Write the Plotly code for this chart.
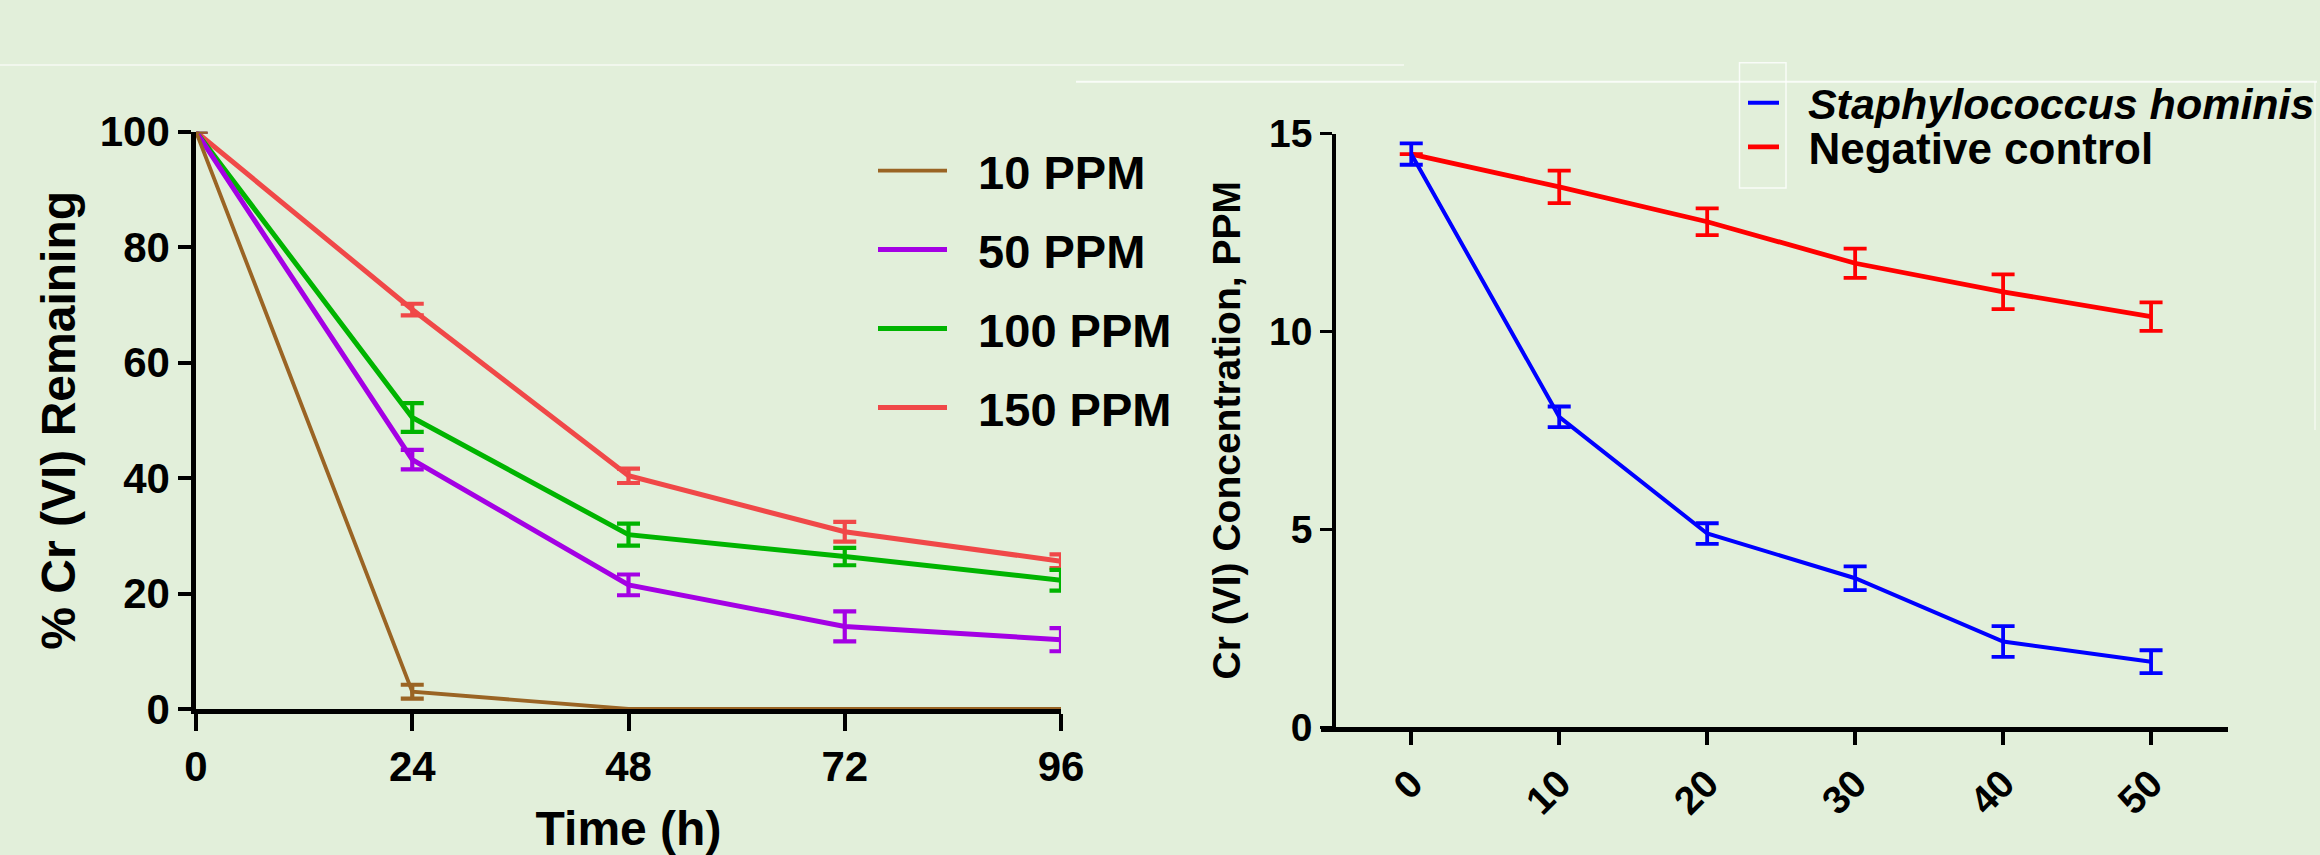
import plotly.graph_objects as go

BG = '#E2EFDA'
FONT = 'Liberation Sans, Arial, Helvetica, sans-serif'
W, H = 2320, 855

# ---------------- left panel data ----------------
time_h = [0, 24, 48, 72, 96]
time_ticks = [0, 24, 48, 72, 96]
pct_ticks = [0, 20, 40, 60, 80, 100]

ppm10 = [100, 3.0, 0, 0, 0]
ppm10_err = [None, 1.2, None, None, None]
ppm50 = [100, 43.2, 21.5, 14.3, 12.0]
ppm50_err = [None, 1.7, 1.8, 2.6, 2.0]
ppm100 = [100, 50.5, 30.2, 26.4, 22.3]
ppm100_err = [None, 2.5, 1.9, 1.5, 1.8]
ppm150 = [100, 69.2, 40.4, 30.7, 25.6]
ppm150_err = [None, 1.0, 1.25, 1.7, 1.2]
left_names = ['10 PPM', '50 PPM', '100 PPM', '150 PPM']

# ---------------- right panel data ----------------
day_x = [0, 10, 20, 30, 40, 50]
day_ticktext = ['0', '10', '20', '30', '40', '50']
conc_ticks = [0, 5, 10, 15]
hominis = [14.48, 7.84, 4.89, 3.76, 2.16, 1.65]
hominis_err = [0.27, 0.26, 0.26, 0.30, 0.39, 0.29]
negative = [14.48, 13.65, 12.77, 11.72, 11.0, 10.37]
negative_err = [None, 0.41, 0.34, 0.37, 0.44, 0.36]
right_names = ['<i>Staphylococcus hominis</i>', 'Negative control']

GAP = '\u00a0\u00a0'  # small gap between legend sample and its label


def px(x):
    return x / W


def py(y):
    return 1 - y / H


fig = go.Figure()

left_series = [
    (ppm150, ppm150_err, left_names[3], '#F04848', 5, 'legend4'),
    (ppm100, ppm100_err, left_names[2], '#00B400', 5, 'legend3'),
    (ppm50, ppm50_err, left_names[1], '#A400E4', 5, 'legend2'),
    (ppm10, ppm10_err, left_names[0], '#9A6424', 3.8, 'legend'),
]
for vals, err, name, col, lw, leg in left_series:
    fig.add_trace(go.Scatter(
        x=time_h, y=vals, name=GAP + name, mode='lines',
        line=dict(color=col, width=lw),
        error_y=dict(type='data', array=err, visible=True, color=col,
                     thickness=4.2, width=11.5),
        xaxis='x', yaxis='y', cliponaxis=False, legend=leg,
    ))

right_series = [
    (negative, negative_err, right_names[1], '#FF0000', 4.8, 'legend6'),
    (hominis, hominis_err, right_names[0], '#0000FF', 4, 'legend5'),
]
for vals, err, name, col, lw, leg in right_series:
    fig.add_trace(go.Scatter(
        x=day_x, y=vals, name=GAP + name, mode='lines',
        line=dict(color=col, width=lw),
        error_y=dict(type='data', array=err, visible=True, color=col,
                     thickness=3.8, width=11.5),
        xaxis='x2', yaxis='y2', cliponaxis=False, legend=leg,
    ))

axis_common = dict(showgrid=False, zeroline=False, showline=True,
                   linecolor='black', ticks='outside', tickcolor='black',
                   fixedrange=True)

left_leg_font = dict(family=FONT, size=47, color='black', weight='bold')
right_leg_font = dict(family=FONT, size=44, color='black', weight='bold')
right_leg_font_it = dict(family=FONT, size=43, color='black', weight='bold')


def leg(x, y, font, itemwidth):
    return dict(x=px(x), y=py(y), xanchor='left', yanchor='middle',
                bgcolor='rgba(0,0,0,0)', borderwidth=0, font=font,
                itemwidth=itemwidth, itemclick=False, itemdoubleclick=False)


fig.update_layout(
    width=W, height=H,
    margin=dict(l=0, r=0, t=0, b=0, autoexpand=False),
    paper_bgcolor=BG, plot_bgcolor='rgba(0,0,0,0)',
    font=dict(family=FONT, color='black', weight='bold'),
    xaxis=dict(
        **axis_common, domain=[px(196), px(1061)], range=[0, 96],
        tickvals=time_ticks, anchor='y', linewidth=4.5, ticklen=17, tickwidth=4,
        tickfont=dict(family=FONT, size=42, weight='bold'),
        title=dict(text='Time (h)', font=dict(family=FONT, size=48, weight='bold'),
                   standoff=28),
    ),
    yaxis=dict(
        **axis_common, domain=[py(709), py(131.7)], range=[0, 100],
        tickvals=pct_ticks, anchor='x', linewidth=4.5, ticklen=13, tickwidth=4,
        tickfont=dict(family=FONT, size=42, weight='bold'),
        title=dict(text='% Cr (VI) Remaining',
                   font=dict(family=FONT, size=48, weight='bold'), standoff=10),
    ),
    xaxis2=dict(
        **axis_common, domain=[px(1321), px(2228)], range=[-6.1, 55.2],
        tickvals=day_x, ticktext=day_ticktext, tickangle=-45, anchor='y2',
        linewidth=5, ticklen=13, tickwidth=3.5,
        tickfont=dict(family=FONT, size=39, weight='bold'),
    ),
    yaxis2=dict(
        **axis_common, domain=[py(727), py(133.5)], range=[0, 15],
        tickvals=conc_ticks, anchor='free', position=px(1334),
        linewidth=3.5, ticklen=12, tickwidth=3,
        tickfont=dict(family=FONT, size=39, weight='bold'),
        title=dict(text='Cr (VI) Concentration, PPM',
                   font=dict(family=FONT, size=39, weight='bold'), standoff=15),
    ),
    legend=leg(873, 171, left_leg_font, 69),
    legend2=leg(873, 250, left_leg_font, 69),
    legend3=leg(873, 329, left_leg_font, 69),
    legend4=leg(873, 408, left_leg_font, 69),
    legend5=leg(1743, 102.7, right_leg_font_it, 31),
    legend6=leg(1743, 147.3, right_leg_font, 31),
    showlegend=True,
    shapes=[
        dict(type='line', xref='paper', yref='paper', x0=0, x1=px(1404),
             y0=py(65), y1=py(65), line=dict(color='rgba(255,255,255,0.7)', width=1.5)),
        dict(type='line', xref='paper', yref='paper', x0=px(1076), x1=px(2317),
             y0=py(81.7), y1=py(81.7), line=dict(color='rgba(255,255,255,0.8)', width=2)),
        dict(type='line', xref='paper', yref='paper', x0=px(2315), x1=px(2315),
             y0=py(81.7), y1=py(430), line=dict(color='rgba(255,255,255,0.6)', width=1.5)),
        dict(type='rect', xref='paper', yref='paper', x0=px(1739.5), x1=px(1786),
             y0=py(188), y1=py(62.7), line=dict(color='rgba(255,255,255,0.8)', width=1.5)),
    ],
)

fig.write_html(
    'out.html',
    config={'displayModeBar': False},
    post_script="document.body.style.margin='0';"
                "document.body.style.background='" + BG + "';",
)
